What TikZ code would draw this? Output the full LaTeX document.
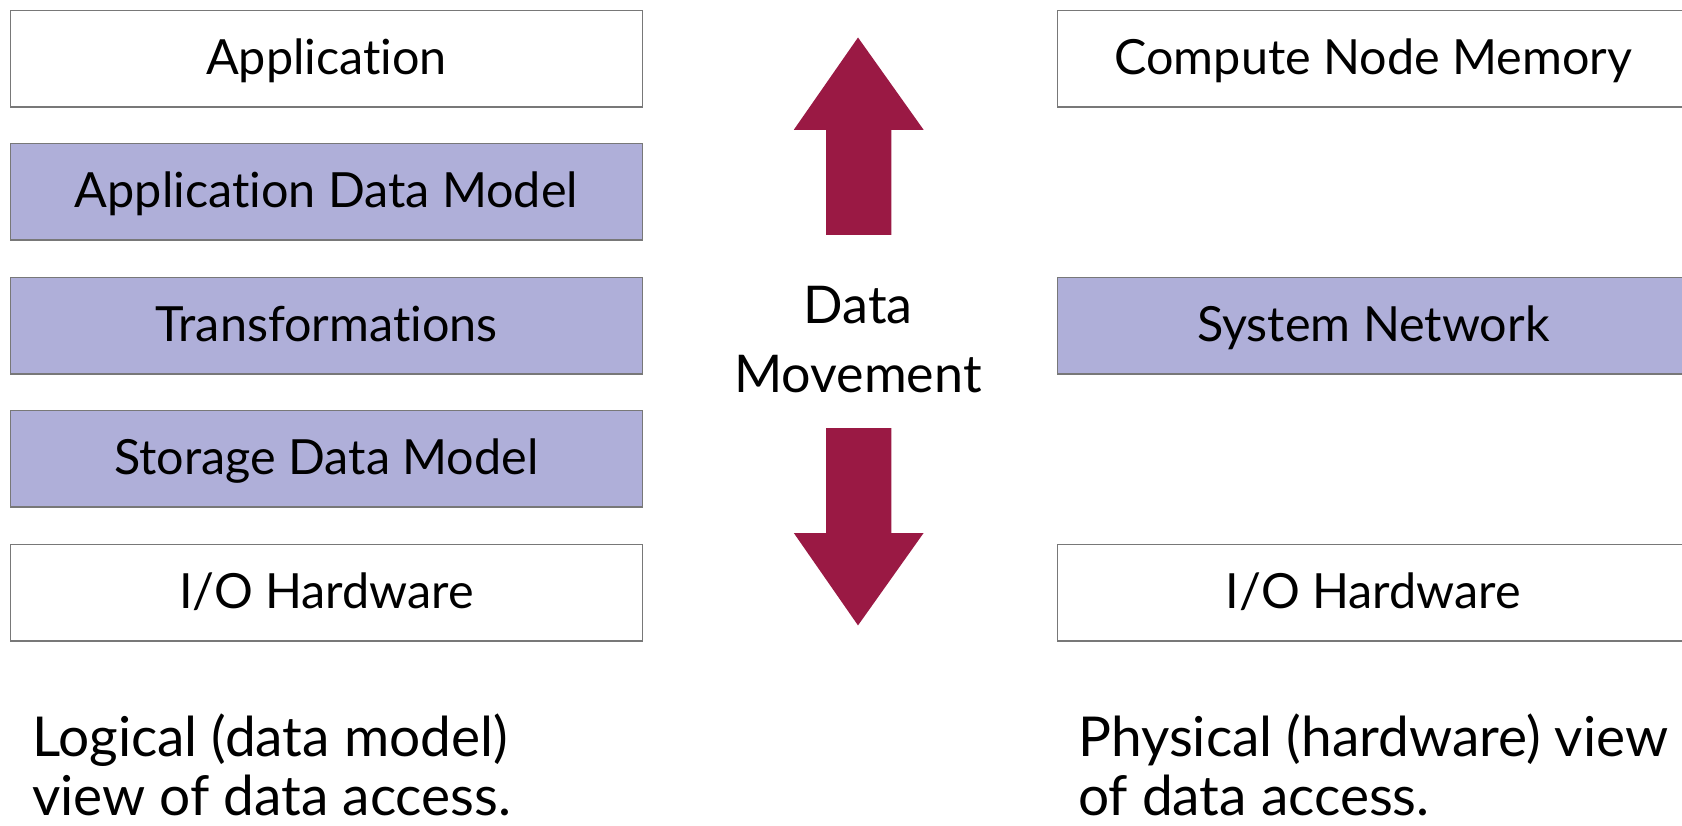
\documentclass[tikz,border=0pt]{standalone}
\usepackage{fontspec}
\setmainfont{Lato}[Ligatures={NoCommon,NoContextual}]
\definecolor{lav}{HTML}{AFAFD9}
\definecolor{crim}{HTML}{9A1944}
\definecolor{edgegray}{HTML}{787878}
\begin{document}
\begin{tikzpicture}[x=1pt,y=-1pt,
  layer/.style={draw=edgegray,line width=1.5pt,minimum width=632pt,minimum height=96.5pt,
    inner sep=0pt,anchor=north west,text height=31pt,text depth=0pt,
    font=\fontsize{48.5}{55}\selectfont},
  shaded/.style={layer,fill=lav},
  plain/.style={layer,fill=white},
  bigarrow/.style={fill=crim,draw=none},
  caption/.style={anchor=base west,align=left,inner sep=0pt,font=\fontsize{55}{59}\selectfont}]
\useasboundingbox (0,0) rectangle (1682,826);
\clip (0,0) rectangle (1682,826);
% left column
\node[plain]  (app)   at (9.7,9.7)   {Application};
\node[shaded] (adm)   at (9.7,142.7) {Application Data Model};
\node[shaded] (trans) at (9.7,276.8) {Transformations};
\node[shaded] (sdm)   at (9.7,409.8) {Storage Data Model};
\node[plain]  (iol)   at (9.7,543.9) {I/O Hardware};
% right column
\node[plain]  (cnm)   at (1056.6,9.7)   {Compute Node Memory};
\node[shaded] (net)   at (1056.6,276.8) {System Network};
\node[plain]  (ior)   at (1056.6,543.9) {I/O Hardware};
% arrows
\fill[bigarrow] (858,37.5) -- (923.6,129.8) -- (891.4,129.8) -- (891.4,235) -- (826,235) -- (826,129.8) -- (793.8,129.8) -- cycle;
\fill[bigarrow] (858,625.4) -- (923.6,533) -- (891.4,533) -- (891.4,428) -- (826,428) -- (826,533) -- (793.8,533) -- cycle;
\node[anchor=base,align=center,inner sep=0pt,font=\fontsize{52}{69}\selectfont] (dm) at (858,392.6) {Data\\Movement};
% captions
\node[caption] (logical)  at (32,815)   {Logical (data model)\\view of data access.};
\node[caption] (physical) at (1078,815) {Physical (hardware) view\\of data access.};
\end{tikzpicture}
\end{document}
